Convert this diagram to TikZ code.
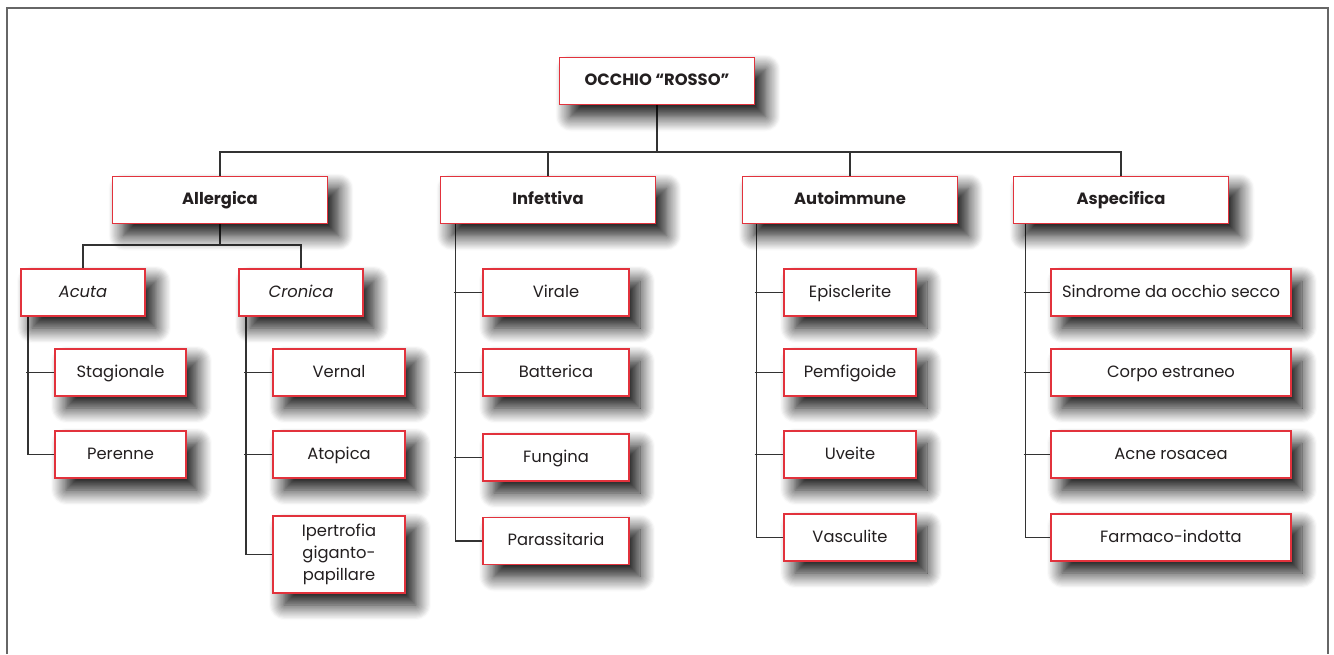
\documentclass[tikz,border=0pt]{standalone}
\usepackage{fontspec}
\setmainfont{Poppins}
\usetikzlibrary{calc,backgrounds,shadows.blur}
\definecolor{boxred}{HTML}{E2323C}
\definecolor{linegray}{HTML}{333333}
\definecolor{framegray}{HTML}{666666}
\definecolor{textgray}{HTML}{231F20}
\tikzset{
  box/.style={draw=boxred, line width=1pt, fill=white, text=textgray, align=center,
    inner sep=0pt, minimum height=0.94cm, font=\fontsize{9.3}{12.5}\selectfont,
    blur shadow={shadow xshift=0.22cm, shadow yshift=-0.24cm, shadow blur radius=0.3cm,
      shadow blur steps=14, shadow opacity=95}},
  leaf/.style={box, text height=7.4pt, text depth=1.9pt},
  head/.style={leaf, font=\fontsize{9.3}{12.5}\selectfont\bfseries},
  kind/.style={leaf, font=\fontsize{9.3}{12.5}\selectfont\itshape},
  link/.style={draw=linegray, line width=0.85pt},
}
\begin{document}
\begin{tikzpicture}[x=0.02cm, y=-0.02cm]
    \useasboundingbox (0,0) rectangle (1334,654);
    \draw[framegray, line width=1.1pt] (7,654) -- (7,8) -- (1328,8) -- (1328,654);

    \node[head, minimum width=3.9cm] (root) at (657,81) {OCCHIO “ROSSO”};

    \node[head, minimum width=4.3cm] (allergica) at (220,200) {Allergica};
    \node[head, minimum width=4.3cm] (infettiva) at (548,200) {Infettiva};
    \node[head, minimum width=4.3cm] (autoimmune) at (850,200) {Autoimmune};
    \node[head, minimum width=4.3cm] (aspecifica) at (1121,200) {Aspecifica};

    \node[kind, minimum width=2.48cm] (acuta) at (83,292.5) {Acuta};
    \node[kind, minimum width=2.48cm] (cronica) at (301,292.5) {Cronica};

    \node[leaf, minimum width=2.62cm] (stagionale) at (120.5,372.5) {Stagionale};
    \node[leaf, minimum width=2.62cm] (perenne) at (120.5,454.5) {Perenne};

    \node[leaf, minimum width=2.64cm] (vernal) at (339,372.5) {Vernal};
    \node[leaf, minimum width=2.64cm] (atopica) at (339,454.5) {Atopica};
    \node[box, minimum width=2.64cm, minimum height=1.54cm] (ipertrofia) at (339,554.5) {Ipertrofia\\giganto-\\papillare};

    \node[leaf, minimum width=2.92cm] (virale) at (556,292.5) {Virale};
    \node[leaf, minimum width=2.92cm] (batterica) at (556,372.5) {Batterica};
    \node[leaf, minimum width=2.92cm] (fungina) at (556,457.5) {Fungina};
    \node[leaf, minimum width=2.92cm] (parassitaria) at (556,541) {Parassitaria};

    \node[leaf, minimum width=2.64cm] (episclerite) at (850,292.5) {Episclerite};
    \node[leaf, minimum width=2.64cm] (pemfigoide) at (850,372.5) {Pemfigoide};
    \node[leaf, minimum width=2.64cm] (uveite) at (850,454.5) {Uveite};
    \node[leaf, minimum width=2.64cm] (vasculite) at (850,537.5) {Vasculite};

    \node[leaf, minimum width=4.8cm] (secco) at (1171,292.5) {Sindrome da occhio secco};
    \node[leaf, minimum width=4.8cm] (estraneo) at (1171,372.5) {Corpo estraneo};
    \node[leaf, minimum width=4.8cm] (rosacea) at (1171,454.5) {Acne rosacea};
    \node[leaf, minimum width=4.8cm] (farmaco) at (1171,537.5) {Farmaco-indotta};

    \begin{scope}[on background layer]
    \coordinate (bus) at (657,152);
    \foreach \n in {allergica,infettiva,autoimmune,aspecifica}
        \draw[link] (root.south) -- (bus) -| (\n.north);

    \coordinate (abus) at (220,245);
    \draw[link] (allergica.south) -- (abus);
    \draw[link] (acuta.north) |- (abus) -| (cronica.north);

    \coordinate (sacuta) at ($(acuta.south west)+(8,0)$);
    \coordinate (scronica) at ($(cronica.south west)+(8,0)$);
    \coordinate (sinfettiva) at ($(infettiva.south west)+(16,0)$);
    \coordinate (sauto) at ($(autoimmune.south west)+(15,0)$);
    \coordinate (sasp) at ($(aspecifica.south west)+(13,0)$);

    \draw[link] (sacuta) |- (perenne.west);
    \draw[link] (sacuta |- stagionale.west) ++(-2,0) -- (stagionale.west);

    \draw[link] (scronica) |- (ipertrofia.west);
    \foreach \n in {vernal,atopica}
        \draw[link] (scronica |- \n.west) ++(-2,0) -- (\n.west);

    \draw[link] (sinfettiva) |- (parassitaria.west);
    \foreach \n in {virale,batterica,fungina}
        \draw[link] (sinfettiva |- \n.west) ++(-2,0) -- (\n.west);

    \draw[link] (sauto) |- (vasculite.west);
    \foreach \n in {episclerite,pemfigoide,uveite}
        \draw[link] (sauto |- \n.west) ++(-2,0) -- (\n.west);

    \draw[link] (sasp) |- (farmaco.west);
    \foreach \n in {secco,estraneo,rosacea}
        \draw[link] (sasp |- \n.west) ++(-2,0) -- (\n.west);
    \end{scope}
\end{tikzpicture}
\end{document}
